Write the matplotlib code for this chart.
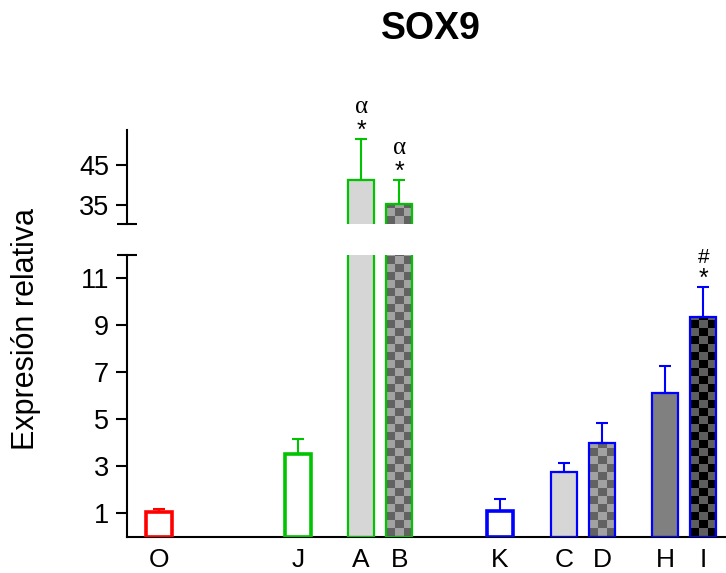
import numpy as np
import matplotlib
matplotlib.use("Agg")
import matplotlib.pyplot as plt
from matplotlib.colors import to_rgb
from matplotlib.lines import Line2D
from matplotlib.patches import Rectangle

# ---- data -------------------------------------------------------------
categories = ["O", "J", "A", "B", "K", "C", "D", "H", "I"]
means = [1.03, 3.5, 41.25, 35.2, 1.08, 2.76, 3.99, 6.12, 9.35]
errors = [0.15, 0.65, 10.25, 6.05, 0.52, 0.35, 0.84, 1.15, 1.27]
upper_marks = ["", "", "α", "α", "", "", "", "", "#"]
star_marks = ["", "", "*", "*", "", "", "", "", "*"]
lower_ticks = [1, 3, 5, 7, 9, 11]
upper_ticks = [35, 45]

# ---- layout / style ---------------------------------------------------
xpos = [0, 3.66, 5.32, 6.32, 8.97, 10.66, 11.66, 13.32, 14.32]
bar_w = 0.7
RED, GREEN, BLUE = "#ff0000", "#00c400", "#0000ff"
edge_colors = [RED, GREEN, GREEN, GREEN, BLUE, BLUE, BLUE, BLUE, BLUE]
edge_widths = [2.6, 2.6, 1.6, 1.6, 2.6, 1.6, 1.6, 1.6, 1.6]
# each fill is either a single colour or a (dark, light) checkerboard pair
fills = ["white", "white", "#d6d6d6", ("#626262", "#a2a2a2"),
         "white", "#d6d6d6", ("#626262", "#a2a2a2"), "#808080",
         ("#000000", "#5e5e5e")]

plt.rcParams["font.family"] = ["Liberation Sans", "DejaVu Sans"]

W, H = 726, 573
fig = plt.figure(figsize=(W / 100, H / 100), dpi=100)
ax_lo = fig.add_axes([127 / W, (H - 536.5) / H, 599 / W, 282 / H])
ax_hi = fig.add_axes([127 / W, (H - 224) / H, 599 / W, 94 / H])

XLIM = (-0.84, 14.92)
LIMS = {ax_lo: (0, 12), ax_hi: (30.25, 53.75)}


def add_checker(ax, x, top, colors, cell_px=8.0):
    y0, y1 = LIMS[ax]
    px_per_unit = ax.bbox.height / (y1 - y0)
    cell = cell_px / px_per_unit
    start = max(0.0, y0)
    stop = min(top, y1)
    if stop <= start:
        return
    nrows = int(np.ceil((stop - start) / cell))
    ii, jj = np.indices((nrows, 3))
    mask = ((ii + jj) % 2 == 0)[..., None]
    img = np.where(mask, np.array(to_rgb(colors[0])), np.array(to_rgb(colors[1])))
    im = ax.imshow(img, extent=(x - bar_w / 2, x + bar_w / 2, start, start + nrows * cell),
                   origin="lower", aspect="auto", interpolation="nearest", zorder=1.5)
    # keep the pattern inside the visible part of the bar
    clip = Rectangle((x - bar_w / 2, start), bar_w, stop - start, transform=ax.transData)
    im.set_clip_path(clip)


for ax in (ax_lo, ax_hi):
    ax.set_xlim(*XLIM)
    ax.set_ylim(*LIMS[ax])
    for i, x in enumerate(xpos):
        f = fills[i]
        face = f if isinstance(f, str) else f[1]
        ax.bar(x, means[i], width=bar_w, color=face, linewidth=0, zorder=1)
        if not isinstance(f, str):
            add_checker(ax, x, means[i], f)
        ax.bar(x, means[i], width=bar_w, fill=False, edgecolor=edge_colors[i],
               linewidth=edge_widths[i], zorder=3)
        ax.errorbar(x, means[i], yerr=[[0], [errors[i]]], fmt="none",
                    ecolor=edge_colors[i], elinewidth=1.5, capsize=4.5,
                    capthick=1.5, zorder=2.5)
    ax.set_xlim(*XLIM)
    ax.set_ylim(*LIMS[ax])
    ax.spines["top"].set_visible(False)
    ax.spines["right"].set_visible(False)
    ax.spines["left"].set_linewidth(1.5)
    ax.tick_params(axis="y", direction="out", length=8, width=1.5,
                   labelsize=19.5, pad=5)
    ax.patch.set_alpha(0)

ax_lo.set_yticks(lower_ticks)
ax_hi.set_yticks(upper_ticks)
ax_lo.spines["bottom"].set_linewidth(1.5)
ax_lo.set_xticks(xpos, categories)
ax_lo.tick_params(axis="x", length=0, labelsize=19, pad=8)
ax_hi.spines["bottom"].set_visible(False)
ax_hi.set_xticks([])

# short horizontal caps marking the axis break
for ax, yfrac in ((ax_lo, 1.0), (ax_hi, 0.0)):
    bb = ax.get_position()
    y = bb.y0 + yfrac * bb.height
    fig.add_artist(Line2D([117 / W, 137 / W], [y, y], transform=fig.transFigure,
                          color="black", linewidth=1.5, solid_capstyle="butt"))

# significance marks above the error bars
for i, x in enumerate(xpos):
    top = means[i] + errors[i]
    ax = ax_hi if means[i] > LIMS[ax_lo][1] else ax_lo
    if star_marks[i]:
        ax.annotate(star_marks[i], xy=(x, top), xytext=(0, 0.5),
                    textcoords="offset points", ha="center", va="baseline",
                    fontsize=18, annotation_clip=False)
    if upper_marks[i] == "α":
        ax.annotate("α", xy=(x, top), xytext=(0, 18.5), textcoords="offset points",
                    ha="center", va="baseline", fontsize=18,
                    family=["Liberation Serif", "DejaVu Serif"], annotation_clip=False)
    elif upper_marks[i]:
        ax.annotate(upper_marks[i], xy=(x, top), xytext=(0, 17),
                    textcoords="offset points", ha="center", va="baseline",
                    fontsize=15, annotation_clip=False)

fig.text(431 / W, 1 - 29 / H, "SOX9", ha="center", va="center",
         fontsize=27, fontweight="bold")
fig.text(26.5 / W, 1 - 329 / H, "Expresión relativa", rotation=90,
         ha="center", va="center", fontsize=22)

fig.savefig("out.png", dpi=100)
